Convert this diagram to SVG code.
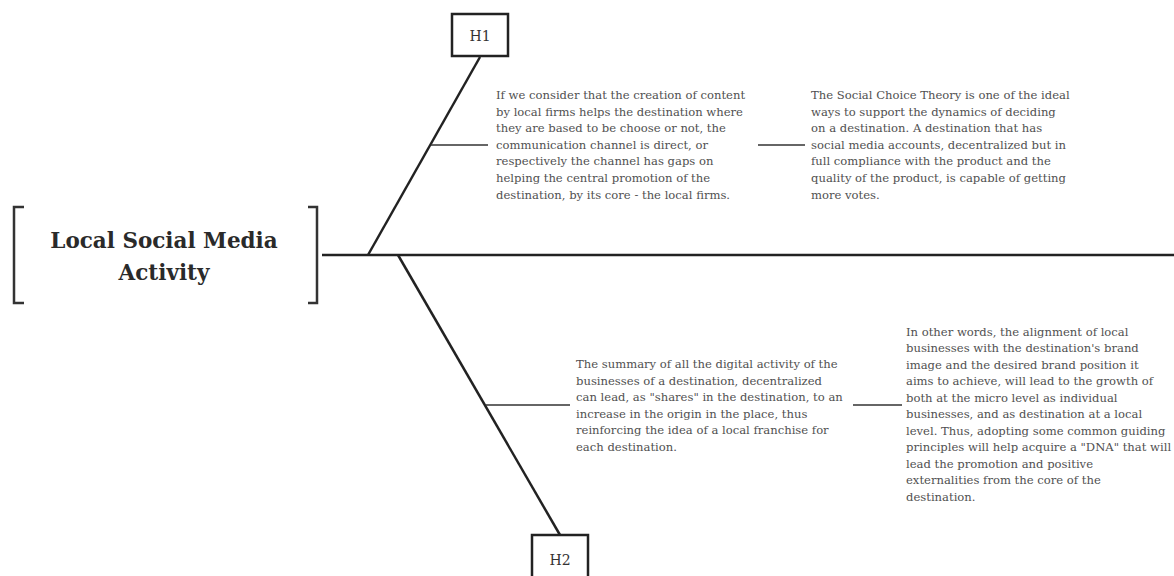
<svg xmlns="http://www.w3.org/2000/svg" width="1174" height="576" viewBox="0 0 1174 576">
<style>
.bg{fill:#ffffff}
.spine{stroke:#222;stroke-width:2.5;fill:none}
.bone{stroke:#222;stroke-width:2.5;fill:none}
.twig{stroke:#333;stroke-width:1.6;fill:none}
.bracket{stroke:#333;stroke-width:2.5;fill:none}
.box{fill:#fff;stroke:#222;stroke-width:2.5}
.hl{font-family:"DejaVu Serif","Liberation Serif",serif;font-size:14px;fill:#333;text-anchor:middle}
.title{font-family:"DejaVu Serif","Liberation Serif",serif;font-weight:bold;font-size:21.5px;fill:#2a2a2a;text-anchor:middle}
.body{font-family:"DejaVu Serif","Liberation Serif",serif;font-size:11.6px;fill:#505050}
</style>
<rect class="bg" x="0" y="0" width="1174" height="576"/>
<g id="effect">
<path class="bracket" d="M24,207 H14 V303 H24"/>
<path class="bracket" d="M308,207 H317 V303 H308"/>
<text class="title" x="164" y="248">Local Social Media</text>
<text class="title" x="164" y="280">Activity</text>
</g>
<g id="connectors">
<line class="spine" x1="322" y1="255" x2="1174" y2="255"/>
<line class="bone" x1="480" y1="57" x2="368" y2="255"/>
<line class="bone" x1="398" y1="255" x2="560" y2="535"/>
<line class="twig" x1="431" y1="145" x2="488" y2="145"/>
<line class="twig" x1="758" y1="145" x2="805" y2="145"/>
<line class="twig" x1="486" y1="405" x2="570" y2="405"/>
<line class="twig" x1="853" y1="405" x2="902" y2="405"/>
</g>
<g id="H1">
<rect class="box" x="452" y="14" width="56" height="42"/>
<text class="hl" x="480" y="41">H1</text>
</g>
<g id="H2">
<rect class="box" x="532" y="535" width="56" height="44"/>
<text class="hl" x="560" y="565">H2</text>
</g>
<g id="text1">
<text class="body" x="496" y="99">If we consider that the creation of content</text>
<text class="body" x="496" y="115.6">by local firms helps the destination where</text>
<text class="body" x="496" y="132.2">they are based to be choose or not, the</text>
<text class="body" x="496" y="148.8">communication channel is direct, or</text>
<text class="body" x="496" y="165.4">respectively the channel has gaps on</text>
<text class="body" x="496" y="182">helping the central promotion of the</text>
<text class="body" x="496" y="198.6">destination, by its core - the local firms.</text>
</g>
<g id="text2">
<text class="body" x="811" y="99">The Social Choice Theory is one of the ideal</text>
<text class="body" x="811" y="115.6">ways to support the dynamics of deciding</text>
<text class="body" x="811" y="132.2">on a destination. A destination that has</text>
<text class="body" x="811" y="148.8">social media accounts, decentralized but in</text>
<text class="body" x="811" y="165.4">full compliance with the product and the</text>
<text class="body" x="811" y="182">quality of the product, is capable of getting</text>
<text class="body" x="811" y="198.6">more votes.</text>
</g>
<g id="text3">
<text class="body" x="576" y="368">The summary of all the digital activity of the</text>
<text class="body" x="576" y="384.6">businesses of a destination, decentralized</text>
<text class="body" x="576" y="401.2">can lead, as "shares" in the destination, to an</text>
<text class="body" x="576" y="417.8">increase in the origin in the place, thus</text>
<text class="body" x="576" y="434.4">reinforcing the idea of a local franchise for</text>
<text class="body" x="576" y="451">each destination.</text>
</g>
<g id="text4">
<text class="body" x="906" y="335.5">In other words, the alignment of local</text>
<text class="body" x="906" y="352">businesses with the destination's brand</text>
<text class="body" x="906" y="368.5">image and the desired brand position it</text>
<text class="body" x="906" y="385">aims to achieve, will lead to the growth of</text>
<text class="body" x="906" y="401.5">both at the micro level as individual</text>
<text class="body" x="906" y="418">businesses, and as destination at a local</text>
<text class="body" x="906" y="434.5">level. Thus, adopting some common guiding</text>
<text class="body" x="906" y="451">principles will help acquire a "DNA" that will</text>
<text class="body" x="906" y="467.5">lead the promotion and positive</text>
<text class="body" x="906" y="484">externalities from the core of the</text>
<text class="body" x="906" y="500.5">destination.</text>
</g>
</svg>
